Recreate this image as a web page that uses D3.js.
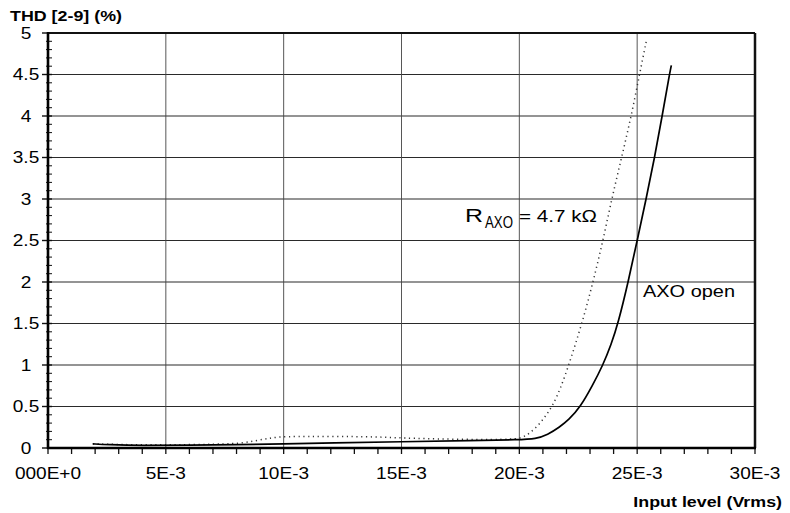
<!DOCTYPE html>
<html>
<head>
<meta charset="utf-8">
<script src="https://cdn.jsdelivr.net/npm/d3@7"></script>
<style>
  body { margin: 0; background: #fff; }
  svg { display: block; font-family: "Liberation Sans", Arial, sans-serif; }
</style>
</head>
<body>
<svg id="chart"></svg>
<script>
const width = 790, height = 513;

// x in volts rms, y in % THD
const xTicks = [0, 0.005, 0.010, 0.015, 0.020, 0.025, 0.030];
const xTickLabels = ["000E+0", "5E-3", "10E-3", "15E-3", "20E-3", "25E-3", "30E-3"];
const yTicks = [0, 0.5, 1, 1.5, 2, 2.5, 3, 3.5, 4, 4.5, 5];
const yTickLabels = ["0", "0.5", "1", "1.5", "2", "2.5", "3", "3.5", "4", "4.5", "5"];

// AXO open (solid), x in mV
const openX = [1.9, 2.5, 4, 6, 8, 10, 12, 15, 18, 20, 20.7, 21.2, 21.7, 22.1, 22.58, 23.1, 23.55, 23.9, 24.19, 24.62, 25.0, 25.38, 25.74, 26.06, 26.37, 26.45];
const openY = [0.05, 0.04, 0.03, 0.035, 0.04, 0.05, 0.06, 0.075, 0.09, 0.1, 0.11, 0.16, 0.25, 0.34, 0.49, 0.75, 1.0, 1.25, 1.5, 2.0, 2.5, 3.0, 3.5, 4.0, 4.5, 4.61];

// R_AXO = 4.7 kOhm (dotted), x in mV
const raxoX = [1.9, 4, 6, 8, 8.7, 9.4, 10, 12, 14, 15, 17, 19.6, 20.1, 20.4, 20.8, 21.1, 21.4, 21.75, 22.1, 22.66, 23.13, 23.55, 23.92, 24.34, 24.75, 25.1, 25.4];
const raxoY = [0.05, 0.035, 0.04, 0.05, 0.08, 0.12, 0.14, 0.14, 0.135, 0.12, 0.105, 0.1, 0.12, 0.17, 0.27, 0.38, 0.5, 0.72, 1.0, 1.5, 2.0, 2.5, 3.0, 3.5, 4.0, 4.5, 4.92];

const svg = d3.select("#chart").attr("width", width).attr("height", height);

const x = d3.scaleLinear().domain([0, 0.030]).range([48, 755]);
const y = d3.scaleLinear().domain([0, 5]).range([448, 33]);

const sx = 1.19; // the scan is a bit stretched sideways

const label = (px, py, str, size, anchor, bold) => {
    svg.append("text")
        .attr("transform", `translate(${px},${py}) scale(${sx},1)`)
        .attr("text-anchor", anchor)
        .style("font-size", size + "px")
        .style("font-weight", bold ? "bold" : "normal")
        .attr("fill", "#000")
        .text(str);
};

// grid
svg.append("g").selectAll("line")
    .data(yTicks.filter(d => d > 0 && d < 5))
    .enter().append("line")
    .attr("x1", x(0)).attr("x2", x(0.030))
    .attr("y1", d => y(d)).attr("y2", d => y(d))
    .attr("stroke", "#2a2a2a")
    .attr("stroke-width", 1.1);

svg.append("g").selectAll("line")
    .data(xTicks.filter(d => d > 0 && d < 0.030))
    .enter().append("line")
    .attr("x1", d => x(d)).attr("x2", d => x(d))
    .attr("y1", y(0)).attr("y2", y(5))
    .attr("stroke", "#444")
    .attr("stroke-width", 0.9);

// minor ticks
const xMinor = d3.range(0, 31).map(i => i / 1000);
svg.append("g").selectAll("line")
    .data(xMinor)
    .enter().append("line")
    .attr("x1", d => x(d)).attr("x2", d => x(d))
    .attr("y1", y(0)).attr("y2", y(0) + 6)
    .attr("stroke", "#111")
    .attr("stroke-width", 1.3);

const yMinor = d3.range(0, 51).map(i => i / 10);
svg.append("g").selectAll("line")
    .data(yMinor)
    .enter().append("line")
    .attr("x1", d => (Math.round(d * 10) % 5 === 0) ? x(0) - 6 : x(0) - 2)
    .attr("x2", x(0) + 4)
    .attr("y1", d => y(d)).attr("y2", d => y(d))
    .attr("stroke", "#111")
    .attr("stroke-width", d => (Math.round(d * 10) % 5 === 0) ? 1.4 : 1);

// frame
svg.append("line").attr("x1", x(0)).attr("x2", x(0.030)).attr("y1", y(5)).attr("y2", y(5))
    .attr("stroke", "#111").attr("stroke-width", 2);
svg.append("line").attr("x1", x(0.030)).attr("x2", x(0.030)).attr("y1", y(5)).attr("y2", y(0))
    .attr("stroke", "#111").attr("stroke-width", 2.5);
svg.append("line").attr("x1", x(0)).attr("x2", x(0)).attr("y1", y(5) - 1).attr("y2", y(0) + 1)
    .attr("stroke", "#000").attr("stroke-width", 2.6);
svg.append("line").attr("x1", x(0) - 1).attr("x2", x(0.030) + 1).attr("y1", y(0)).attr("y2", y(0))
    .attr("stroke", "#000").attr("stroke-width", 2.6);

// curves
const line = d3.line()
    .x(d => x(d[0] / 1000))
    .y(d => y(d[1]))
    .curve(d3.curveBasis);

svg.append("path")
    .datum(raxoX.map((v, i) => [v, raxoY[i]]))
    .attr("d", line)
    .attr("fill", "none")
    .attr("stroke", "#333")
    .attr("stroke-width", 1.5)
    .attr("stroke-dasharray", "1.2,3.6");

svg.append("path")
    .datum(openX.map((v, i) => [v, openY[i]]))
    .attr("d", line)
    .attr("fill", "none")
    .attr("stroke", "#000")
    .attr("stroke-width", 1.7);

// tick labels
xTicks.forEach((d, i) => label(x(d), 479, xTickLabels[i], 16, "middle", false));
yTicks.forEach((d, i) => label(26, y(d) + 5.7, yTickLabels[i], 16, "middle", false));

// axis titles
label(10, 21, "THD [2-9] (%)", 15, "start", true);
label(782, 507, "Input level (Vrms)", 15, "end", true);

// annotations
const note = (px, py, str, size, len) => {
    svg.append("text")
        .attr("x", px).attr("y", py)
        .attr("textLength", len)
        .attr("lengthAdjust", "spacingAndGlyphs")
        .style("font-size", size + "px")
        .attr("fill", "#000")
        .text(str);
};
note(465, 222, "R", 18, 18);
note(485, 228, "AXO", 16, 28);
note(519, 222, "= 4.7 kΩ", 17, 78);
note(643, 297, "AXO open", 16.5, 92);
</script>
</body>
</html>
